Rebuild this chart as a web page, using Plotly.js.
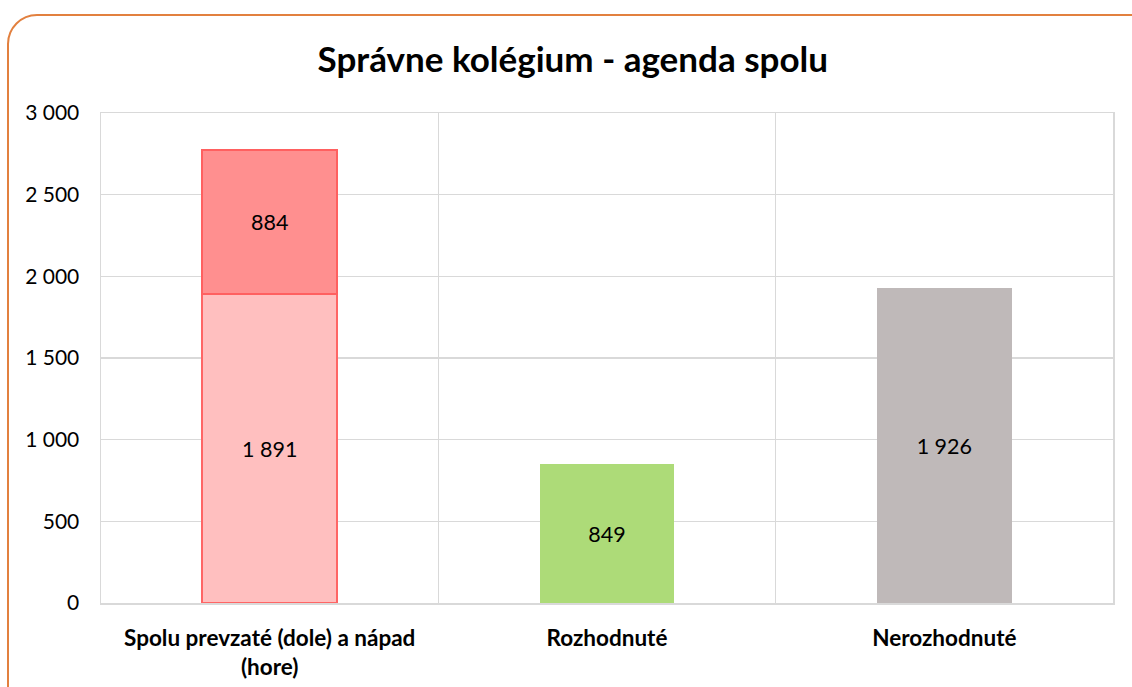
<!DOCTYPE html>
<html>
<head>
<meta charset="utf-8">
<script src="https://cdn.plot.ly/plotly-3.0.1.min.js"></script>
<style>
  html, body { margin: 0; padding: 0; background: #ffffff; overflow: hidden; }
  #frame { position: absolute; left: 7px; top: 14px; width: 1160px; height: 720px;
           border: 2px solid #E2803F; border-radius: 30px; box-sizing: border-box; }
  #chart { position: absolute; left: 0; top: 0; width: 1132px; height: 687px; }
</style>
</head>
<body>
<div id="frame"></div>
<div id="chart"></div>
<script>
const categories = ["Spolu prevzaté (dole) a nápad<br>(hore)", "Rozhodnuté", "Nerozhodnuté"];
const prevzate = [1891, null, null];
const napad = [884, null, null];
const rozhodnute = [null, 849, null];
const nerozhodnute = [null, null, 1926];
const yTicks = [0, 500, 1000, 1500, 2000, 2500, 3000];

const font = "Lato, 'Open Sans', sans-serif";
const common = {
  type: "bar", x: categories, texttemplate: "%{y:,d}", textposition: "inside",
  insidetextanchor: "middle", textangle: 0, hoverinfo: "skip",
  textfont: {family: font, size: 21.5, color: "#000000"}
};

const traces = [
  Object.assign({}, common, {name: "prevzaté", y: prevzate,
    marker: {color: "#FFBFBF", line: {color: "#FF6565", width: 1.5}}}),
  Object.assign({}, common, {name: "nápad", y: napad,
    marker: {color: "#FF8F8F", line: {color: "#FF6060", width: 1.5}}}),
  Object.assign({}, common, {name: "rozhodnuté", y: rozhodnute,
    marker: {color: "#ADDB78", line: {width: 0}}}),
  Object.assign({}, common, {name: "nerozhodnuté", y: nerozhodnute,
    marker: {color: "#BFB9B9", line: {width: 0}}})
];

const layout = {
  width: 1132, height: 687,
  paper_bgcolor: "rgba(0,0,0,0)", plot_bgcolor: "#ffffff",
  separators: ", ",
  barmode: "stack", bargap: 0.6, showlegend: false,
  margin: {l: 101, r: 19, t: 113, b: 84},
  title: {text: "<b>Správne kolégium - agenda spolu</b>", x: 0.506, xref: "container",
    xanchor: "center", y: 0.913, yanchor: "middle",
    font: {family: font, size: 35, color: "#000000"}},
  xaxis: {
    type: "category", tickson: "boundaries", showgrid: true, gridcolor: "#D9D9D9", gridwidth: 1.5,
    showline: true, linecolor: "#D9D9D9", linewidth: 1.5, mirror: true,
    ticks: "", ticklabelstandoff: 14,
    tickfont: {family: font, size: 22.5, color: "#000000", weight: "bold"},
    fixedrange: true
  },
  yaxis: {
    range: [0, 3000], tickvals: yTicks, tickformat: ",d",
    showgrid: true, gridcolor: "#D9D9D9", gridwidth: 1.5,
    showline: true, linecolor: "#D9D9D9", linewidth: 1.5, mirror: true,
    zeroline: false, ticks: "", ticklabelstandoff: 16,
    tickfont: {family: font, size: 21, color: "#000000"}, fixedrange: true
  }
};

Plotly.newPlot("chart", traces, layout, {displayModeBar: false, staticPlot: true});
</script>
</body>
</html>
